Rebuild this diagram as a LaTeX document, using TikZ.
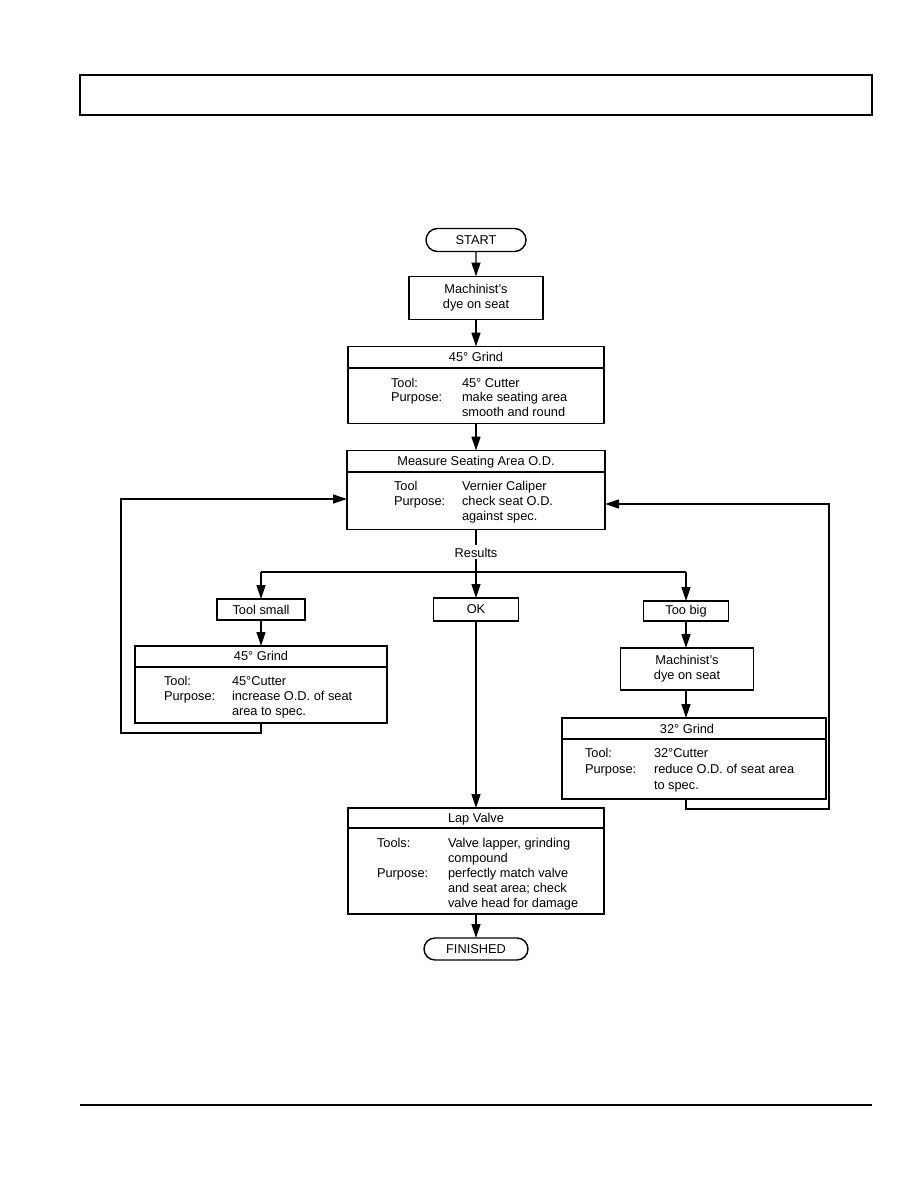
\documentclass[tikz,border=0pt]{standalone}
\usepackage{fontspec}
\setmainfont{Liberation Sans}
\usetikzlibrary{arrows.meta,shapes.misc}
\begin{document}
\begin{tikzpicture}[x=1pt,y=-1pt,
  every node/.style={font=\fontsize{12.8}{15}\selectfont, inner sep=0pt, outer sep=0pt},
  box/.style={draw, line width=1.4pt, rectangle},
  term/.style={draw, line width=1.4pt, rounded rectangle},
  ln/.style={line width=1.4pt},
  arr/.style={line width=1.4pt, -{Triangle[length=14pt,width=9pt]}},
  lbl/.style={anchor=base west},
  ttl/.style={anchor=base}]
\useasboundingbox (0,0) rectangle (918,1188);

% page header box and footer rule
\node[box, minimum width=792, minimum height=40] (hdr) at (476,95) {};
\draw[line width=2.6pt] (hdr.north west) -- (hdr.north east);
\coordinate (fl) at (80,1105);
\coordinate (fr) at (872,1105);
\draw[line width=1.5pt] (fl) -- (fr);

% main column
\node[term, minimum width=100, minimum height=23] (start) at (476,240) {START};
\node[box, minimum width=134, minimum height=43, align=center] (dye1) at (476,298) {Machinist's\\dye on seat};

\node[box, minimum width=256, minimum height=77] (g1) at (476,385) {};
\coordinate (g1d) at (0,368);
\draw[ln] (g1.west |- g1d) -- (g1.east |- g1d);
\node[ttl] (g1t) at (476,361) {45° Grind};
\node[lbl] (g1a) at (391,387) {Tool:};
\node[lbl] (g1b) at (391,401) {Purpose:};
\node[lbl] (g1c) at (462,387) {45° Cutter};
\node[lbl] (g1e) at (462,401) {make seating area};
\node[lbl] (g1f) at (462,416) {smooth and round};

\node[box, minimum width=258, minimum height=79] (meas) at (476,490) {};
\coordinate (md) at (0,472);
\draw[ln] (meas.west |- md) -- (meas.east |- md);
\node[ttl] (mt) at (476,465) {Measure Seating Area O.D.};
\node[lbl] (ma) at (394,490) {Tool};
\node[lbl] (mb) at (394,505) {Purpose:};
\node[lbl] (mc) at (462,490) {Vernier Caliper};
\node[lbl] (me) at (462,505) {check seat O.D.};
\node[lbl] (mf) at (462,520) {against spec.};

\node[ttl] (res) at (476,557) {Results};
\coordinate (hb) at (476,572);

\node[box, minimum width=88, minimum height=21] (small) at (261,609.5) {Tool small};
\node[box, minimum width=85, minimum height=23] (ok) at (476,609.5) {OK};
\node[box, minimum width=85, minimum height=20] (big) at (686,611) {Too big};

% left branch
\node[box, minimum width=252, minimum height=77] (g2) at (261,684.5) {};
\coordinate (g2d) at (0,667);
\draw[ln] (g2.west |- g2d) -- (g2.east |- g2d);
\node[ttl] (g2t) at (261,660.5) {45° Grind};
\node[lbl] (g2a) at (164,685) {Tool:};
\node[lbl] (g2b) at (164,700) {Purpose:};
\node[lbl] (g2c) at (232,685) {45°Cutter};
\node[lbl] (g2e) at (232,700) {increase O.D. of seat};
\node[lbl] (g2f) at (232,715) {area to spec.};

% right branch
\node[box, minimum width=133, minimum height=42, align=center] (dye2) at (687,669) {Machinist's\\dye on seat};
\node[box, minimum width=264, minimum height=81] (g3) at (694,758.5) {};
\coordinate (g3d) at (0,739);
\draw[ln] (g3.west |- g3d) -- (g3.east |- g3d);
\node[ttl] (g3t) at (687,733) {32° Grind};
\node[lbl] (g3a) at (585,757) {Tool:};
\node[lbl] (g3b) at (585,773) {Purpose:};
\node[lbl] (g3c) at (654,757) {32°Cutter};
\node[lbl] (g3e) at (654,773) {reduce O.D. of seat area};
\node[lbl] (g3f) at (654,789) {to spec.};

% lap valve and finish
\node[box, minimum width=256, minimum height=106] (lap) at (476,861) {};
\coordinate (ld) at (0,828);
\draw[ln] (lap.west |- ld) -- (lap.east |- ld);
\node[ttl] (lt) at (476,822) {Lap Valve};
\node[lbl] (la) at (377,847) {Tools:};
\node[lbl] (lb) at (377,877) {Purpose:};
\node[lbl] (lc) at (448,847) {Valve lapper, grinding};
\node[lbl] (le) at (448,862) {compound};
\node[lbl] (lf) at (448,877) {perfectly match valve};
\node[lbl] (lg) at (448,892) {and seat area; check};
\node[lbl] (lh) at (448,907) {valve head for damage};
\node[term, minimum width=104, minimum height=22] (fin) at (476,949) {FINISHED};

% connectors
\draw[arr] (start) -- (dye1);
\draw[arr] (dye1) -- (g1);
\draw[arr] (g1) -- (meas);
\draw[ln] (meas.south) -- ([yshift=3pt]res.north);
\draw[arr] ([yshift=-2pt]res.south) -- (ok);
\draw[ln] (small.north |- hb) -- (big.north |- hb);
\draw[arr] (small.north |- hb) -- (small.north);
\draw[arr] (big.north |- hb) -- (big.north);
\draw[arr] (small) -- (g2);
\draw[arr] (big.south) -- (big.south |- dye2.north);
\draw[arr] (big.south |- dye2.south) -- (big.south |- g3.north);
\draw[arr] (ok) -- (lap);
\draw[arr] (lap) -- (fin);

\coordinate (l1) at (121,733);
\coordinate (l2) at (121,499);
\draw[arr] (g2.south) |- (l1) |- (meas.west |- l2);
\coordinate (r1) at (829,809);
\coordinate (r2) at (829,504);
\draw[arr] (big.south |- g3.south) |- (r1) |- (meas.east |- r2);
\end{tikzpicture}
\end{document}
